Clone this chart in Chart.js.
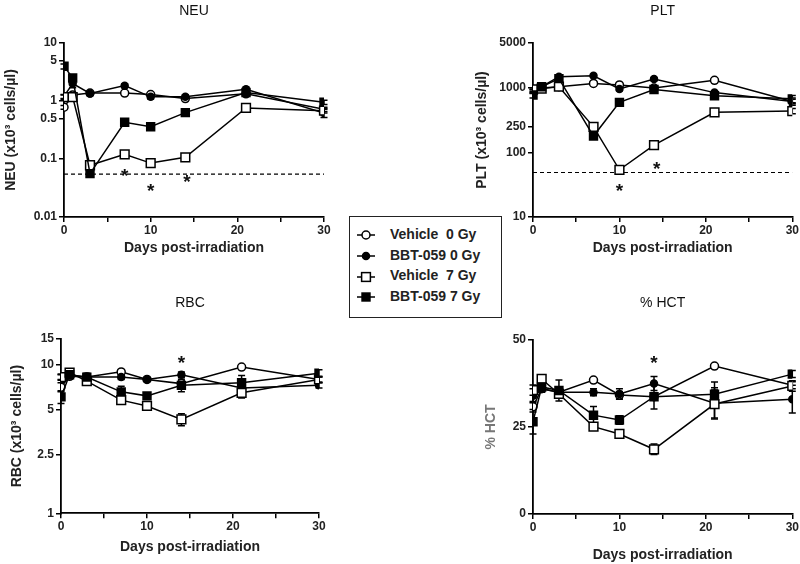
<!DOCTYPE html>
<html>
<head>
<meta charset="utf-8">
<script src="https://cdn.jsdelivr.net/npm/chart.js@4/dist/chart.umd.min.js"></script>
<style>
  body { margin: 0; background: #fff; }
  #wrap { position: relative; width: 800px; height: 564px; overflow: hidden; }
  canvas { position: absolute; }
  #legend {
    position: absolute; left: 349px; top: 216px; width: 151px; height: 100px;
    border: 1.5px solid #222; background: #fff;
    font: bold 14px "Liberation Sans", Arial, sans-serif; color: #222;
  }
  #legend div { position: absolute; left: 6px; height: 20px; line-height: 20px; white-space: pre; }
  #legend svg { vertical-align: middle; margin-right: 14px; }
</style>
</head>
<body>
<div id="wrap">
  <canvas id="neuChart" width="400" height="262" style="left:0;top:0"></canvas>
  <canvas id="pltChart" width="400" height="262" style="left:400px;top:0"></canvas>
  <canvas id="rbcChart" width="400" height="282" style="left:0;top:282px"></canvas>
  <canvas id="hctChart" width="400" height="282" style="left:400px;top:282px"></canvas>
  <div id="legend"></div>
</div>
<script>
const days = [0, 1, 3, 7, 10, 14, 21, 30];
const seriesNames = ["Vehicle  0 Gy", "BBT-059 0 Gy", "Vehicle  7 Gy", "BBT-059 7 Gy"];

// NEU (x10^3 cells/ul)
const veh0Neu = [0.78, 1.27, 1.37, 1.37, 1.29, 1.1, 1.33, 0.72];
const bbt0Neu = [1.2, 2.0, 1.35, 1.84, 1.18, 1.18, 1.6, 0.62];
const veh7Neu = [1.17, 1.17, 0.078, 0.12, 0.085, 0.107, 0.76, 0.68];
const bbt7Neu = [3.96, 2.5, 0.056, 0.43, 0.36, 0.63, 1.4, 0.95];
const veh0NeuErr = [0.06, 0.1, 0.1, 0.1, 0.1, 0.08, 0.1, 0.06];
const bbt0NeuErr = [0.1, 0.3, 0.1, 0.15, 0.1, 0.1, 0.15, 0.1];
const veh7NeuErr = [0.1, 0.1, 0.008, 0.01, 0.006, 0.008, 0.06, 0.06];
const bbt7NeuErr = [0.4, 0.3, 0.005, 0.04, 0.03, 0.05, 0.12, 0.08];
const neuTicks = [0.01, 0.1, 0.5, 1, 5, 10];
const neuLimit = 0.055;
const neuStarDays = [7, 10, 14.2];
const neuStarVals = [0.06, 0.033, 0.047];

// PLT (x10^3 cells/ul)
const veh0Plt = [900, 1000, 1050, 1180, 1120, 1000, 1320, 620];
const bbt0Plt = [880, 1050, 1500, 1550, 970, 1380, 850, 620];
const veh7Plt = [950, 980, 1050, 250, 54, 130, 420, 440];
const bbt7Plt = [780, 1050, 1400, 180, 600, 950, 760, 680];
const veh0PltErr = [60, 60, 60, 60, 60, 60, 60, 50];
const bbt0PltErr = [60, 60, 80, 80, 60, 80, 60, 80];
const veh7PltErr = [60, 60, 60, 20, 4, 15, 40, 40];
const bbt7PltErr = [80, 60, 80, 20, 40, 60, 60, 90];
const pltTicks = [10, 100, 250, 1000, 5000];
const pltLimit = 49;
const pltStarDays = [10, 14.3];
const pltStarVals = [29, 64];

// RBC (x10^3 cells/ul)
const veh0Rbc = [7.1, 8.4, 8.3, 9.0, 8.0, 7.5, 9.7, 8.0];
const bbt0Rbc = [8.3, 8.5, 8.3, 8.3, 8.0, 8.6, 7.0, 7.3];
const veh7Rbc = [8.3, 8.9, 7.8, 5.8, 5.3, 4.3, 6.5, 8.0];
const bbt7Rbc = [6.1, 8.6, 8.3, 6.6, 6.2, 7.3, 7.6, 8.8];
const veh0RbcErr = [0.5, 0.3, 0.3, 0.3, 0.2, 0.3, 0.3, 0.3];
const bbt0RbcErr = [0.4, 0.3, 0.3, 0.3, 0.2, 0.4, 0.5, 0.3];
const veh7RbcErr = [0.3, 0.4, 0.5, 0.3, 0.2, 0.4, 0.5, 0.4];
const bbt7RbcErr = [0.6, 0.4, 0.5, 0.6, 0.3, 0.7, 0.9, 0.5];
const rbcTicks = [1, 2.5, 5, 10, 15];
const rbcStarDays = [14];
const rbcStarVals = [11];

// % HCT
const veh0Hct = [30.8, 36, 35, 38.5, 34.2, 33.7, 42.5, 37];
const bbt0Hct = [34, 36, 35, 35, 34.5, 37.5, 31.8, 33];
const veh7Hct = [35.6, 38.8, 34.5, 25.1, 23, 18.6, 31.6, 36.8];
const bbt7Hct = [26.5, 36.5, 35.5, 28.4, 27, 33.7, 34.4, 40.2];
const veh0HctErr = [1.5, 1, 1, 0.5, 1, 1, 0.5, 1];
const bbt0HctErr = [2, 1, 1.5, 1, 1.5, 2, 4.5, 4];
const veh7HctErr = [1.5, 1, 1, 1, 0.5, 1.5, 4, 1.5];
const bbt7HctErr = [3.5, 1.5, 3, 2.5, 1.2, 3.5, 3.5, 1];
const hctTicks = [0, 25, 50];
const hctStarDays = [14];
const hctStarVals = [44.5];

const limitDays = [0, 30];

const FONT = '"Liberation Sans", Arial, sans-serif';
const markers = [
  { pointStyle: "circle", pointRadius: 4, backgroundColor: "#fff" },
  { pointStyle: "circle", pointRadius: 3.5, backgroundColor: "#000" },
  { pointStyle: "rect", pointRadius: 6.2, backgroundColor: "#fff" },
  { pointStyle: "rect", pointRadius: 5.6, backgroundColor: "#000" },
];

const starPlugin = {
  id: "stars",
  afterDatasetsDraw(chart, args, opts) {
    const { ctx, scales } = chart;
    ctx.save();
    ctx.font = "bold 19px " + FONT;
    ctx.fillStyle = "#111";
    ctx.textAlign = "center";
    ctx.textBaseline = "middle";
    opts.days.forEach((d, i) => {
      ctx.fillText("*", scales.x.getPixelForValue(d), scales.y.getPixelForValue(opts.vals[i]) + 5);
    });
    ctx.restore();
  },
};

// SEM bars, drawn under the markers
const errorBarPlugin = {
  id: "errbars",
  beforeDatasetsDraw(chart) {
    const { ctx, scales } = chart;
    ctx.save();
    ctx.strokeStyle = "#000";
    ctx.lineWidth = 1.5;
    chart.data.datasets.forEach((ds) => {
      if (!ds.errs) return;
      ds.data.forEach((pt, i) => {
        const e = ds.errs[i];
        if (!e) return;
        const x = scales.x.getPixelForValue(pt.x);
        const y1 = scales.y.getPixelForValue(pt.y - e);
        const y2 = scales.y.getPixelForValue(pt.y + e);
        ctx.beginPath();
        ctx.moveTo(x, y1); ctx.lineTo(x, y2);
        ctx.moveTo(x - 3.5, y1); ctx.lineTo(x + 3.5, y1);
        ctx.moveTo(x - 3.5, y2); ctx.lineTo(x + 3.5, y2);
        ctx.stroke();
      });
    });
    ctx.restore();
  },
};

function makeChart(id, p) {
  const datasets = p.series.map((vals, i) => ({
    label: seriesNames[i],
    data: days.map((d, j) => ({ x: d, y: vals[j] })),
    errs: p.errs[i],
    borderColor: "#000",
    borderWidth: 1.5,
    pointBorderColor: "#000",
    pointBorderWidth: 1.5,
    pointStyle: markers[i].pointStyle,
    pointRadius: markers[i].pointRadius,
    pointBackgroundColor: markers[i].backgroundColor,
    tension: 0,
    order: 4 - i,
  }));
  if (p.limit !== undefined) {
    datasets.push({
      data: limitDays.map((d) => ({ x: d, y: p.limit })),
      borderColor: "#000",
      borderWidth: 1.2,
      borderDash: [4, 3],
      pointRadius: 0,
      order: 10,
    });
  }
  return new Chart(document.getElementById(id).getContext("2d"), {
    type: "line",
    data: { datasets },
    plugins: [errorBarPlugin, starPlugin],
    options: {
      responsive: false,
      animation: false,
      layout: { padding: { left: p.padLeft, right: p.padRight, top: 0, bottom: 0 } },
      plugins: {
        legend: { display: false },
        tooltip: { enabled: false },
        title: {
          display: true,
          text: p.title,
          fullSize: false,
          color: "#111",
          font: { family: FONT, size: 14, weight: "normal" },
          padding: { top: p.titleTop, bottom: p.titleBottom },
        },
        stars: { days: p.starDays, vals: p.starVals },
      },
      scales: {
        x: {
          type: "linear",
          min: 0,
          max: 30,
          afterFit: (s) => { s.height = p.xHeight; },
          border: { display: true, color: "#000", width: 1.8 },
          grid: { drawOnChartArea: false, drawTicks: true, tickLength: 5, color: "#000", lineWidth: 1.5 },
          ticks: {
            stepSize: 5,
            padding: 1,
            maxRotation: 0,
            color: "#222",
            font: { family: FONT, size: 12, weight: "bold" },
            callback: (v) => (v % 10 === 0 ? v : ""),
          },
          title: {
            display: true,
            text: "Days post-irradiation",
            color: "#222",
            font: { family: FONT, size: 14, weight: "bold" },
            padding: { top: 0, bottom: p.xTitleBottom },
          },
        },
        y: {
          type: p.yType,
          min: p.ticks[0],
          max: p.ticks[p.ticks.length - 1],
          afterFit: (s) => { s.width = p.yWidth; },
          afterBuildTicks: (s) => { s.ticks = p.ticks.map((v) => ({ value: v })); },
          border: { display: true, color: "#000", width: 1.8 },
          grid: { drawOnChartArea: false, drawTicks: true, tickLength: 5, color: "#000", lineWidth: 1.5 },
          ticks: {
            padding: 2,
            color: "#222",
            font: { family: FONT, size: 12, weight: "bold" },
            callback: (v) => String(v),
          },
          title: {
            display: true,
            text: p.yTitle,
            color: p.yTitleColor || "#222",
            font: { family: FONT, size: 14, weight: "bold" },
            padding: { top: 3, bottom: 0 },
          },
        },
      },
    },
  });
}

const neuChart = makeChart("neuChart", {
  title: "NEU", yTitle: "NEU (x10³ cells/µl)", yType: "logarithmic", ticks: neuTicks,
  series: [veh0Neu, bbt0Neu, veh7Neu, bbt7Neu], errs: [veh0NeuErr, bbt0NeuErr, veh7NeuErr, bbt7NeuErr],
  limit: neuLimit, starDays: neuStarDays, starVals: neuStarVals,
  padLeft: 0, yWidth: 64, padRight: 76, titleTop: 2.6, titleBottom: 23.6, xHeight: 45, xTitleBottom: 5.6,
});

const pltChart = makeChart("pltChart", {
  title: "PLT", yTitle: "PLT (x10³ cells/µl)", yType: "logarithmic", ticks: pltTicks,
  series: [veh0Plt, bbt0Plt, veh7Plt, bbt7Plt], errs: [veh0PltErr, bbt0PltErr, veh7PltErr, bbt7PltErr],
  limit: pltLimit, starDays: pltStarDays, starVals: pltStarVals,
  padLeft: 70.3, yWidth: 62.7, padRight: 7, titleTop: 2.6, titleBottom: 23.6, xHeight: 45, xTitleBottom: 5.6,
});

const rbcChart = makeChart("rbcChart", {
  title: "RBC", yTitle: "RBC (x10³ cells/µl)", yType: "logarithmic", ticks: rbcTicks,
  series: [veh0Rbc, bbt0Rbc, veh7Rbc, bbt7Rbc], errs: [veh0RbcErr, bbt0RbcErr, veh7RbcErr, bbt7RbcErr],
  starDays: rbcStarDays, starVals: rbcStarVals,
  padLeft: 5.3, yWidth: 55.7, padRight: 81, titleTop: 12.6, titleBottom: 27.6, xHeight: 50.7, xTitleBottom: 8.6,
});

const hctChart = makeChart("hctChart", {
  title: "% HCT", yTitle: "% HCT", yTitleColor: "#777", yType: "linear", ticks: hctTicks,
  series: [veh0Hct, bbt0Hct, veh7Hct, bbt7Hct], errs: [veh0HctErr, bbt0HctErr, veh7HctErr, bbt7HctErr],
  starDays: hctStarDays, starVals: hctStarVals,
  padLeft: 79.3, yWidth: 53.7, padRight: 7, titleTop: 12.6, titleBottom: 28.6, xHeight: 50, xTitleBottom: 0,
});

// legend
const legend = document.getElementById("legend");
seriesNames.forEach((name, i) => {
  const m = markers[i];
  const shape = m.pointStyle === "circle"
    ? `<circle cx="10" cy="6" r="${m.pointRadius}" fill="${m.backgroundColor}" stroke="#000" stroke-width="1.5"/>`
    : `<rect x="${10 - m.pointRadius * 0.707}" y="${6 - m.pointRadius * 0.707}" width="${m.pointRadius * 1.414}" height="${m.pointRadius * 1.414}" fill="${m.backgroundColor}" stroke="#000" stroke-width="1.5"/>`;
  const row = document.createElement("div");
  row.style.top = (7 + i * 20.7) + "px";
  row.innerHTML = `<svg width="20" height="12"><line x1="1" y1="6" x2="19" y2="6" stroke="#000" stroke-width="1.5"/>${shape}</svg>${name}`;
  legend.appendChild(row);
});
</script>
</body>
</html>
